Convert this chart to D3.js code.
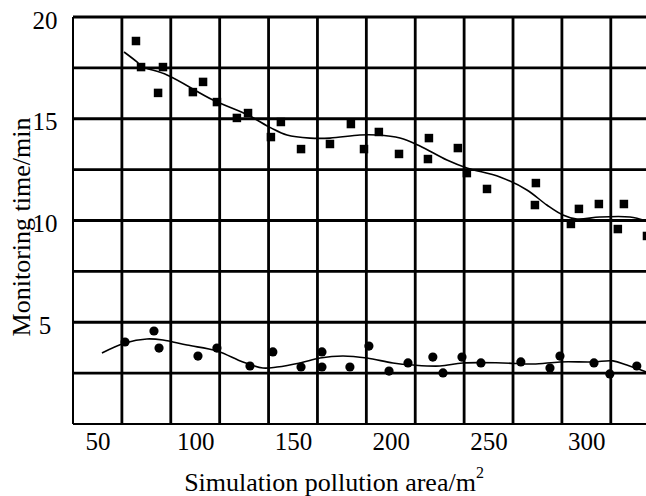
<!DOCTYPE html>
<html lang="en">
<head>
<meta charset="UTF-8">
<title>Monitoring time</title>
<script src="https://cdn.jsdelivr.net/npm/d3@7/dist/d3.min.js"></script>
<style>
  body { margin: 0; background: #fff; }
  text { font-family: "Liberation Serif", "Times New Roman", serif; fill: #000; }
</style>
</head>
<body>
<svg id="chart" width="646" height="496"></svg>
<script>
// squares (upper series)
var sqX = [69.7, 72.3, 81.0, 83.5, 98.8, 104.0, 111.1, 121.3, 127.0, 138.7, 143.8, 154.1, 168.9, 179.6, 186.3,
           193.9, 204.2, 219.0, 219.5, 234.3, 238.9, 249.2, 273.7, 274.2, 292.1, 296.2, 306.4, 316.1, 319.2, 331.0]
var sqY = [18.82, 17.54, 16.27, 17.54, 16.31, 16.81, 15.82, 15.04, 15.28, 14.10, 14.84, 13.51, 13.76, 14.74, 13.51,
           14.35, 13.27, 13.02, 14.05, 13.56, 12.33, 11.55, 10.76, 11.84, 9.83, 10.57, 10.81, 9.58, 10.81, 9.24]
// fitted curve through squares
var upX = [63.6, 70.2, 72.3, 85.6, 109.1, 127.0, 138.7, 146.9, 158.7, 168.9, 184.2, 192.9, 204.7, 214.9,
           228.7, 238.9, 255.8, 269.6, 279.8, 288.0, 295.2, 306.9, 322.3, 330.5]
var upY = [18.28, 17.79, 17.59, 17.15, 15.92, 15.18, 14.55, 14.20, 14.05, 14.05, 14.20, 14.20, 14.05, 13.66,
           12.97, 12.58, 12.14, 11.50, 10.76, 10.27, 10.07, 10.17, 10.17, 9.98]
// circles (lower series)
var ciX = [64.1, 78.9, 81.5, 101.4, 111.1, 128.0, 139.7, 154.1, 164.8, 164.8, 179.1, 188.8, 199.1, 208.8,
           221.5, 226.7, 236.4, 246.1, 266.5, 281.4, 286.5, 303.9, 312.0, 325.8]
var ciY = [4.03, 4.57, 3.73, 3.34, 3.73, 2.85, 3.54, 2.80, 3.54, 2.80, 2.80, 3.83, 2.60, 3.00,
           3.29, 2.51, 3.29, 3.00, 3.05, 2.75, 3.34, 3.00, 2.46, 2.85]
// fitted curve through circles
var loX = [52.3, 64.1, 75.3, 83.5, 95.8, 111.1, 124.4, 134.6, 141.8, 153.6, 163.8, 175.5, 187.8, 201.1,
           211.3, 225.1, 236.9, 257.3, 272.7, 286.5, 303.3, 313.6, 320.7, 330.5]
var loY = [3.49, 3.98, 4.18, 4.13, 3.88, 3.59, 3.05, 2.75, 2.80, 3.00, 3.24, 3.34, 3.24, 3.00,
           2.90, 2.85, 3.00, 3.00, 2.95, 3.05, 3.05, 3.10, 2.90, 2.56]

var xTicks = [50, 100, 150, 200, 250, 300]
var yTicks = [5, 10, 15, 20]
var xGrid = d3.range(37.5, 330, 25)
var yGrid = d3.range(0, 20.01, 2.5)

var pLeft = 73, pRight = 646, pTop = 17, pBottom = 424

var x = d3.scaleLinear().domain([37.5, 330.5]).range([pLeft, pRight])
var y = d3.scaleLinear().domain([0, 20]).range([pBottom, pTop])

var svg = d3.select('#chart')

// grid
var grid = svg.append('g').attr('stroke', '#000').attr('stroke-width', 2.8)
grid.selectAll('line.v').data(xGrid).enter().append('line')
    .attr('class', 'v')
    .attr('x1', d => x(d)).attr('x2', d => x(d))
    .attr('y1', pTop).attr('y2', pBottom)
    .attr('stroke-width', (d, i) => i === 0 ? 2 : 2.8)
grid.selectAll('line.h').data(yGrid).enter().append('line')
    .attr('class', 'h')
    .attr('x1', pLeft).attr('x2', pRight)
    .attr('y1', d => y(d)).attr('y2', d => y(d))
    .attr('stroke-width', (d, i) => i === 0 ? 2 : 2.8)

// tick labels
var yAxis = svg.append('g')
    .attr('transform', 'translate(' + pLeft + ',0)')
    .call(d3.axisLeft(y).tickValues(yTicks).tickSize(0).tickFormat(d3.format('d')))
yAxis.select('.domain').remove()
yAxis.selectAll('text')
    .attr('x', -28).attr('dy', '0.36em').attr('y', 2)
    .style('text-anchor', 'middle')
    .style('font-size', '25px')
    .style('font-family', '"Liberation Serif", serif')

var xAxis = svg.append('g')
    .attr('transform', 'translate(0,' + pBottom + ')')
    .call(d3.axisBottom(x).tickValues(xTicks).tickSize(0))
xAxis.select('.domain').remove()
xAxis.selectAll('text')
    .attr('y', 26).attr('dy', 0)
    .style('font-size', '25px')
    .style('font-family', '"Liberation Serif", serif')

// axis titles
var xt = svg.append('text')
    .attr('x', 334).attr('y', 491)
    .attr('text-anchor', 'middle')
    .style('font-size', '26px')
xt.append('tspan').text('Simulation pollution area/m')
xt.append('tspan').attr('dy', -13).style('font-size', '16px').text('2')

svg.append('text')
    .attr('transform', 'translate(30,227) rotate(-90)')
    .attr('text-anchor', 'middle')
    .style('font-size', '26px')
    .text('Monitoring time/min')

// curves
var line = d3.line().x(d => x(d[0])).y(d => y(d[1])).curve(d3.curveCatmullRom)
svg.append('path')
    .datum(d3.zip(upX, upY))
    .attr('d', line)
    .attr('fill', 'none').attr('stroke', '#000').attr('stroke-width', 1.6)
svg.append('path')
    .datum(d3.zip(loX, loY))
    .attr('d', line)
    .attr('fill', 'none').attr('stroke', '#000').attr('stroke-width', 1.6)

// markers
var s = 8.5
svg.selectAll('rect.sq').data(d3.zip(sqX, sqY)).enter().append('rect')
    .attr('class', 'sq')
    .attr('x', d => x(d[0]) - s / 2).attr('y', d => y(d[1]) - s / 2)
    .attr('width', s).attr('height', s)
    .attr('fill', '#000')
svg.selectAll('circle.ci').data(d3.zip(ciX, ciY)).enter().append('circle')
    .attr('class', 'ci')
    .attr('cx', d => x(d[0])).attr('cy', d => y(d[1]))
    .attr('r', 4.6)
    .attr('fill', '#000')
</script>
</body>
</html>
